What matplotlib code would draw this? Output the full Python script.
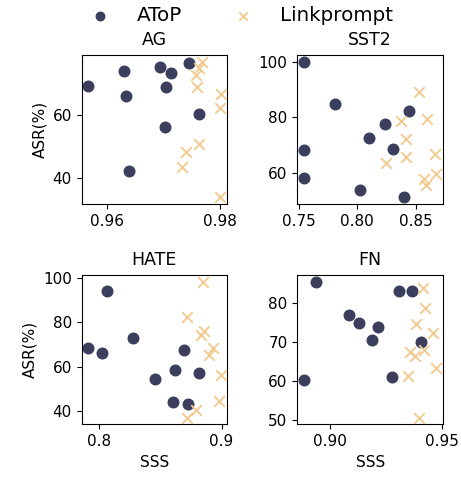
import matplotlib
matplotlib.use("Agg")
import matplotlib.pyplot as plt
import numpy as np

# AToP (SSS, ASR) per dataset
ag_atop_x = [0.9566, 0.9630, 0.9633, 0.9638, 0.9694, 0.9704, 0.9714, 0.9703, 0.9746, 0.9764]
ag_atop_y = [69.2, 74.1, 66.2, 42.1, 75.4, 68.9, 73.3, 56.2, 76.7, 60.2]
ag_link_x = [0.9769, 0.9764, 0.9758, 0.9759, 0.9802, 0.9801, 0.9763, 0.9741, 0.9733, 0.9800]
ag_link_y = [77.0, 74.9, 72.7, 69.0, 66.8, 62.2, 50.8, 48.2, 43.4, 33.7]

sst2_atop_x = [0.7543, 0.7808, 0.7543, 0.7543, 0.8022, 0.8100, 0.8234, 0.8308, 0.8444, 0.8399]
sst2_atop_y = [100.0, 84.9, 68.2, 58.3, 53.9, 72.6, 77.6, 68.6, 82.5, 51.3]
sst2_link_x = [0.8528, 0.8600, 0.8378, 0.8418, 0.8669, 0.8421, 0.8250, 0.8678, 0.8574, 0.8591]
sst2_link_y = [89.1, 79.6, 78.7, 72.1, 66.7, 65.7, 63.7, 59.5, 58.0, 55.6]

hate_atop_x = [0.806, 0.791, 0.802, 0.8278, 0.869, 0.862, 0.846, 0.882, 0.860, 0.873]
hate_atop_y = [94.1, 68.4, 66.3, 72.9, 67.5, 58.4, 54.2, 57.3, 44.2, 43.3]
hate_link_x = [0.885, 0.872, 0.883, 0.886, 0.893, 0.8896, 0.8993, 0.898, 0.879, 0.872]
hate_link_y = [98.0, 82.5, 74.1, 76.2, 68.3, 65.3, 56.1, 44.7, 40.5, 37.0]

fn_atop_x = [0.8936, 0.8884, 0.9086, 0.9131, 0.9216, 0.9188, 0.9309, 0.9366, 0.9406, 0.9276]
fn_atop_y = [85.4, 60.4, 77.0, 74.9, 73.9, 70.7, 83.1, 83.1, 70.1, 61.0]
fn_link_x = [0.9415, 0.9424, 0.9386, 0.9460, 0.9422, 0.9357, 0.9380, 0.9476, 0.9348, 0.9397]
fn_link_y = [84.0, 78.9, 74.6, 72.4, 68.0, 67.6, 66.4, 63.5, 61.3, 50.7]

titles = ["AG", "SST2", "HATE", "FN"]
xticks = [[0.96, 0.98], [0.75, 0.80, 0.85], [0.8, 0.9], [0.90, 0.95]]
xticklabels = [["0.96", "0.98"], ["0.75", "0.80", "0.85"], ["0.8", "0.9"], ["0.90", "0.95"]]
yticks = [[40, 60], [60, 80, 100], [40, 60, 80, 100], [50, 60, 70, 80]]

panels = [
    (ag_atop_x, ag_atop_y, ag_link_x, ag_link_y),
    (sst2_atop_x, sst2_atop_y, sst2_link_x, sst2_link_y),
    (hate_atop_x, hate_atop_y, hate_link_x, hate_link_y),
    (fn_atop_x, fn_atop_y, fn_link_x, fn_link_y),
]

navy = "#3b3e5c"
sand = "#f2c98a"
fs = 12.5

plt.rcParams['font.family'] = ['DejaVu Sans']
fig = plt.figure(figsize=(4.61, 4.79), dpi=100)
positions = [
    [0.177, 0.574, 0.316, 0.311],
    [0.645, 0.574, 0.316, 0.311],
    [0.177, 0.114, 0.316, 0.311],
    [0.645, 0.114, 0.316, 0.311],
]

for i, (ax_pos, data) in enumerate(zip(positions, panels)):
    ax = fig.add_axes(ax_pos)
    ax.scatter(data[0], data[1], s=58, color=navy, marker='o', label='AToP', zorder=2)
    ax.scatter(data[2], data[3], s=58, color=sand, marker='x', linewidths=1.3, label='Linkprompt', zorder=3)
    ax.set_title(titles[i], fontsize=fs, pad=7.5)
    ax.set_xticks(xticks[i])
    ax.set_xticklabels(xticklabels[i])
    ax.set_yticks(yticks[i])
    ax.tick_params(labelsize=fs - 1.5)
    if i % 2 == 0:
        ax.set_ylabel('ASR(%)', fontsize=fs - 1.5)
    if i >= 2:
        ax.set_xlabel('SSS', fontsize=fs - 1.5)
    if i == 0:
        handles, labels = ax.get_legend_handles_labels()

fig.legend(handles, labels, loc='upper center', bbox_to_anchor=(0.513, 1.025), ncol=2,
           frameon=False, fontsize=14.3, markerscale=0.8, columnspacing=2.1, handletextpad=0.85)

fig.savefig('out.png', dpi=100)
